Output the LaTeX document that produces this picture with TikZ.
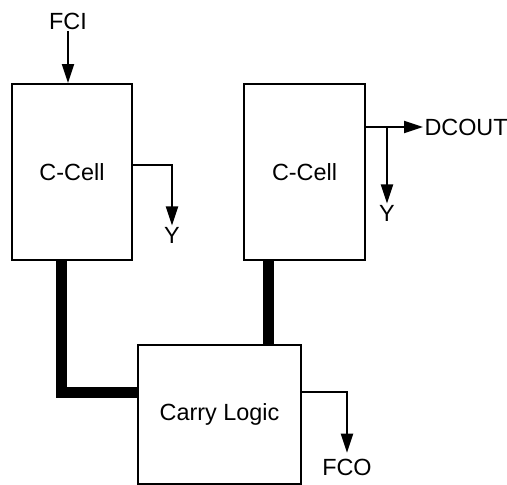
\documentclass[tikz,border=0pt]{standalone}
\usepackage{fontspec}
\setmainfont{Liberation Sans}
\usetikzlibrary{arrows.meta}

\begin{document}
\begin{tikzpicture}[x=1pt,y=-1pt,>={Triangle[length=19pt,width=12pt]},
  line width=2pt,font=\fontsize{23.4}{28}\selectfont,
  cell/.style={draw,minimum width=#1,inner sep=0pt},
  lbl/.style={inner sep=0.5pt},
  bus/.style={line width=11pt}]
\useasboundingbox (0,0) rectangle (507,485);
\node[cell=120pt,minimum height=176pt] (cellA) at (72,172) {C-Cell};
\node[cell=121pt,minimum height=176pt] (cellB) at (304.5,172) {C-Cell};
\node[cell=163pt,minimum height=139pt] (carry) at (219.5,414.5) {Carry Logic};
\node[lbl] (fci) at (68,21) {FCI};
\node[lbl] (ya) at (172,235) {Y};
\node[lbl] (yb) at (387,213) {Y};
\node[lbl,anchor=west] (dcout) at (423,127) {DCOUT};
\node[lbl,inner sep=5pt] (fco) at (347,467) {FCO};
\coordinate (br) at (387,127);
% inputs and outputs
\draw[->] (fci.south) -- (fci.south |- cellA.north);
\draw[->] ([yshift=7]cellA.east) -| (ya.north);
\draw[->] ([yshift=45]cellB.east) -- (dcout.west);
\draw[->] (br) -- (yb.north);
\draw[->] ([yshift=22.5]carry.east) -| (fco.north);
% carry buses
\draw[bus] ([xshift=-10.5]cellA.south) |- ([yshift=22.5]carry.west);
\draw[bus] ([xshift=-36.5]cellB.south) -- ([xshift=-36.5]cellB.south |- carry.north);
\end{tikzpicture}
\end{document}
